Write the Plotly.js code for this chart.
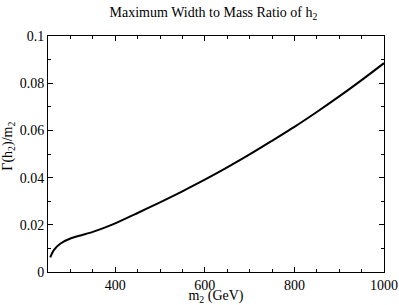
<!DOCTYPE html>
<html><head><meta charset="utf-8">
<script src="https://cdn.plot.ly/plotly-3.0.1.min.js"></script>
<style>html,body{margin:0;padding:0;background:#fff;}#c{width:399px;height:305px;}</style>
</head><body><div id="c"></div>
<script>
const massGeV = [255, 263, 278, 300, 325, 350, 375, 400, 450, 500, 550, 600, 650, 700, 750, 800, 850, 900, 950, 1000];
const widthRatio = [0.0062, 0.0093, 0.0121, 0.0142, 0.0156, 0.0170, 0.0187, 0.0206, 0.0250, 0.0295, 0.0342, 0.0391, 0.0443, 0.0498, 0.0556, 0.0615, 0.0678, 0.0744, 0.0813, 0.0885];
const titleText = 'Maximum Width to Mass Ratio of h<sub>2</sub>';
const xTitle = 'm<sub>2</sub> (GeV)';
const yTitle = '\u0393(h<sub>2</sub>)/m<sub>2</sub>';
const xTickVals = [400, 600, 800, 1000];
const yTickVals = [0, 0.02, 0.04, 0.06, 0.08, 0.1];
const yTickText = ['0', '0.02', '0.04', '0.06', '0.08', '0.1'];

const FF = 'Liberation Serif, Times New Roman, serif';
const axisCommon = {
  showgrid: false, zeroline: false, showline: true, linecolor: '#000', linewidth: 1,
  mirror: 'ticks', ticks: 'inside', ticklen: 5, tickcolor: '#000', tickwidth: 1,
  tickfont: {family: FF, size: 14, color: '#000'}
};
Plotly.newPlot('c', [{
  x: massGeV, y: widthRatio, type: 'scatter', mode: 'lines',
  line: {color: '#000', width: 2, shape: 'spline', smoothing: 0.8}
}], {
  width: 399, height: 305,
  margin: {l: 47.5, r: 15, t: 36, b: 33},
  paper_bgcolor: '#fff', plot_bgcolor: '#fff',
  font: {family: FF, size: 13, color: '#000'}, showlegend: false,
  title: {text: titleText, font: {family: FF, size: 14, color: '#000'}, x: 213.5 / 399, xanchor: 'center', y: 1 - 12 / 305, yanchor: 'middle'},
  xaxis: Object.assign({}, axisCommon, {
    range: [250, 1000], tickvals: xTickVals,
    minor: {dtick: 50, tick0: 250, ticks: 'inside', ticklen: 3, tickcolor: '#000', showgrid: false},
    title: {text: xTitle, font: {family: FF, size: 14, color: '#000'}, standoff: 1}
  }),
  yaxis: Object.assign({}, axisCommon, {
    range: [0, 0.1], tickvals: yTickVals, ticktext: yTickText,
    minor: {dtick: 0.01, tick0: 0, ticks: 'inside', ticklen: 3, tickcolor: '#000', showgrid: false}
  }),
  annotations: [{
    text: yTitle, xref: 'paper', yref: 'paper', x: -0.117, y: 0.534,
    xanchor: 'center', yanchor: 'middle', textangle: -90, showarrow: false,
    font: {family: FF, size: 14, color: '#000'}
  }]
}, {staticPlot: true, displayModeBar: false});
</script></body></html>
